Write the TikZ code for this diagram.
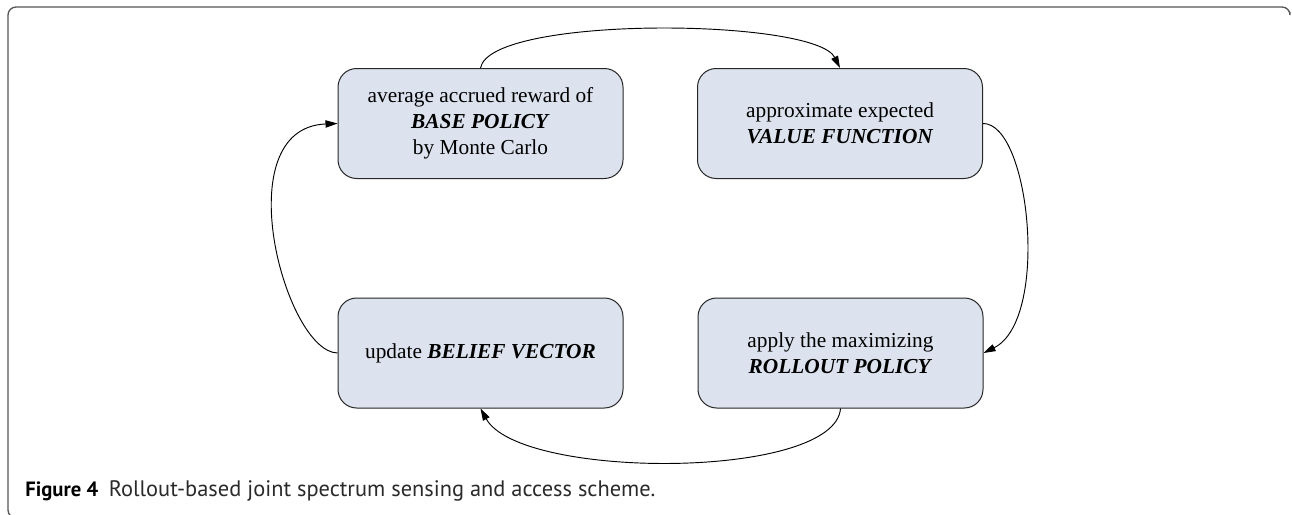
\documentclass[tikz,border=0pt]{standalone}
\usepackage{fontspec}
\setmainfont{Liberation Serif}
\newfontfamily\capfont{PT Sans}
\usetikzlibrary{arrows.meta}
\definecolor{boxfill}{HTML}{DCE3EE}
\definecolor{framegray}{HTML}{555555}
\definecolor{captext}{HTML}{2A2A2A}
\begin{document}
\begin{tikzpicture}[x=0.75pt,y=-0.75pt,
  stepbox/.style={draw=black!85, line width=0.75pt, fill=boxfill, rounded corners=14pt,
    minimum width=213.75pt, minimum height=82.5pt, align=center, inner sep=0pt,
    font=\fontsize{16}{19.5}\selectfont},
  link/.style={draw=black, line width=0.7pt, -{Triangle[length=9pt,width=5.5pt]}},
  caption/.style={anchor=base west, inner sep=0pt, text=captext,
    font=\capfont\fontsize{16.8}{19}\selectfont}
]
\useasboundingbox (0,0) rectangle (1292,514);
\draw[framegray, line width=1pt, rounded corners=6pt]
  (1290,12) -- (1290,7) -- (8,7) -- (8,518) -- (40,518);

\node[stepbox] (tl) at (480.5,123.5) {average accrued reward of\\ \textbf{\textit{BASE POLICY}}\\ by Monte Carlo};
\node[stepbox] (tr) at (840,123.5) {approximate expected\\ \textbf{\textit{VALUE FUNCTION}}};
\node[stepbox] (bl) at (480.5,353) {update \textbf{\textit{BELIEF VECTOR}}};
\node[stepbox] (br) at (840.5,353) {apply the maximizing\\ \textbf{\textit{ROLLOUT POLICY}}};

\draw[link] (tl.north) .. controls (490,15) and (815,18) .. (tr.north);
\draw[link] (tr.east) .. controls (1030,123) and (1050,320) .. (br.east);
\draw[link] (br.south) .. controls (835,480) and (520,480) .. (bl.south);
\draw[link] (bl.west) .. controls (285,352) and (225,128) .. (tl.west);

\node[caption] (cap) at (25,496) {\textcolor{black}{\fontsize{15.5}{19}\selectfont\textbf{Figure 4}}\hspace{8pt}Rollout-based joint spectrum sensing and access scheme.};
\end{tikzpicture}
\end{document}
